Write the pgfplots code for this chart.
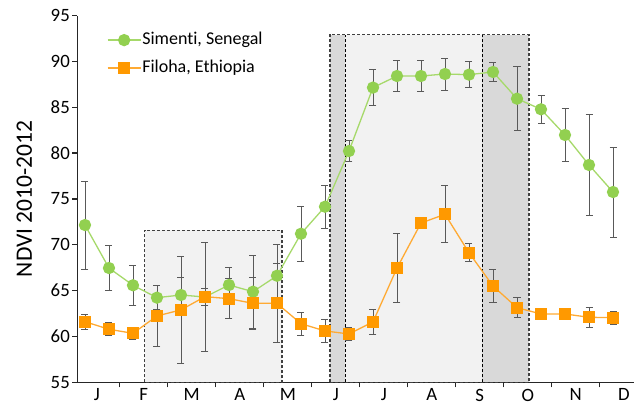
\documentclass[border=0pt]{standalone}
\usepackage{fontspec}
\setmainfont{Carlito}[Ligatures=NoCommon]
\usepackage{pgfplots}
\pgfplotsset{compat=1.18}
\usepackage{pgfplotstable}
\definecolor{gr}{HTML}{92D050}
\definecolor{grl}{HTML}{A6D96A}
\definecolor{orc}{HTML}{FF9900}
\definecolor{orl}{HTML}{FFAA33}
\definecolor{eb}{HTML}{595959}
\definecolor{lg}{HTML}{F2F2F2}
\definecolor{dg}{HTML}{D9D9D9}
\newcommand\fs{\fontsize{18bp}{21bp}\selectfont}
\newcommand\ft{\fontsize{18.8bp}{22bp}\selectfont}
\newcommand\fl{\fontsize{23.5bp}{28bp}\selectfont}
\pgfplotstableread{
i g ge o oe
1 72.15 4.8 61.61 0.8
2 67.46 2.43 60.78 0.72
3 65.58 2.2 60.34 0.68
4 64.23 1.3 62.23 3.3
5 64.52 1.9 62.9 5.8
6 64.3 0.9 64.34 5.95
7 65.61 1.96 64.12 2.17
8 64.88 4.0 63.61 2.8
9 66.62 3.4 63.61 4.3
10 71.2 3.0 61.39 1.28
11 74.15 2.35 60.6 1.27
12 80.22 1.1 60.27 0.68
13 87.14 1.93 61.58 1.4
14 88.4 1.7 67.46 3.8
15 88.4 1.73 72.37 0.3
16 88.62 1.75 73.32 3.1
17 88.55 1.4 69.13 1.0
18 88.84 1.0 65.5 1.77
19 85.93 3.5 63.14 1.1
20 84.77 1.56 62.45 0.3
21 81.97 2.87 62.45 0.5
22 78.7 5.5 62.09 1.1
23 75.75 4.9 62.05 0.73
}\data
\begin{document}
\begin{tikzpicture}
\begin{axis}[
  scale only axis, width=556.7bp, height=366.8bp,
  at={(0,0)}, anchor=south west,
  xmin=0.68, xmax=23.875, ymin=55, ymax=95,
  axis x line*=bottom, axis y line*=left,
  axis line style={black!85, line width=1.2bp},
  tick align=outside, major tick length=5bp,
  tick style={black!85, line width=1.2bp},
  ytick={55,60,65,70,75,80,85,90,95},
  xtick={2.45,4.45,6.45,8.45,10.45,12.45,14.45,16.45,18.45,20.45,22.45},
  xticklabels={},
  extra x ticks={1.5,3.45,5.45,7.45,9.45,11.45,13.45,15.45,17.45,19.45,21.45,23.45},
  extra x tick labels={J,F,M,A,M,J,J,A,S,O,N,D},
  extra x tick style={major tick length=0pt},
  tick label style={font=\ft},
  xticklabel style={yshift=-3bp},
  yticklabel style={xshift=1bp},
  /pgf/number format/assume math mode=true,
  ylabel={NDVI 2010-2012},
  ylabel style={font=\fl, at={(axis description cs:-0.095,0.5)}, anchor=center},
  legend style={draw=none, fill=none, inner sep=0pt, at={(axis description cs:0.053,0.958)}, anchor=north west,
    font=\fs, row sep=10bp, nodes={inner sep=1bp, text height=12bp, text depth=4bp},
    /tikz/every even column/.append style={column sep=0pt}},
  legend cell align=left,
  legend image code/.code={\draw[mark repeat=2,mark phase=2] plot coordinates {(0bp,0bp) (16.5bp,0bp) (33bp,0bp)};},
]
\draw[dash pattern=on 3bp off 2bp, line width=1.1bp, draw=black!75, fill=lg] (axis cs:3.48,55) rectangle (axis cs:9.21,71.6);
\fill[lg] (axis cs:11.85,55) rectangle (axis cs:17.55,92.9);
\fill[dg] (axis cs:11.21,55) rectangle (axis cs:11.85,92.9);
\fill[dg] (axis cs:17.55,55) rectangle (axis cs:19.5,92.9);
\draw[dash pattern=on 3bp off 2bp, line width=1.1bp, draw=black!75] (axis cs:11.21,55) rectangle (axis cs:19.5,92.9);
\draw[dash pattern=on 3bp off 2bp, line width=1.1bp, draw=black] (axis cs:11.85,55) -- (axis cs:11.85,92.9);
\draw[dash pattern=on 3bp off 2bp, line width=1.1bp, draw=black] (axis cs:17.55,55) -- (axis cs:17.55,92.9);

\addplot[draw=none, mark=none, forget plot, error bars/.cd, y dir=both, y explicit,
  error bar style={draw=eb, line width=0.9bp, solid},
  error mark options={rotate=90, mark size=3.5bp, draw=eb, line width=0.9bp}]
  table[x=i, y=g, y error=ge] {\data};
\addplot[draw=none, mark=none, forget plot, error bars/.cd, y dir=both, y explicit,
  error bar style={draw=eb, line width=0.9bp, solid},
  error mark options={rotate=90, mark size=3.5bp, draw=eb, line width=0.9bp}]
  table[x=i, y=o, y error=oe] {\data};

\addplot[grl, line width=1.3bp, mark=*, mark size=5.5bp, mark options={fill=gr, draw=gr, solid}]
  table[x=i, y=g] {\data};
\addlegendentry{Simenti, Senegal}
\addplot[orl, line width=1.3bp, mark=square*, mark size=5.5bp, mark options={fill=orc, draw=orc, solid}]
  table[x=i, y=o] {\data};
\addlegendentry{Filoha, Ethiopia}
\end{axis}
\pgfresetboundingbox
\path[use as bounding box] (-77.3bp,-27.7bp) rectangle (556.7bp,382.3bp);
\end{tikzpicture}
\end{document}
